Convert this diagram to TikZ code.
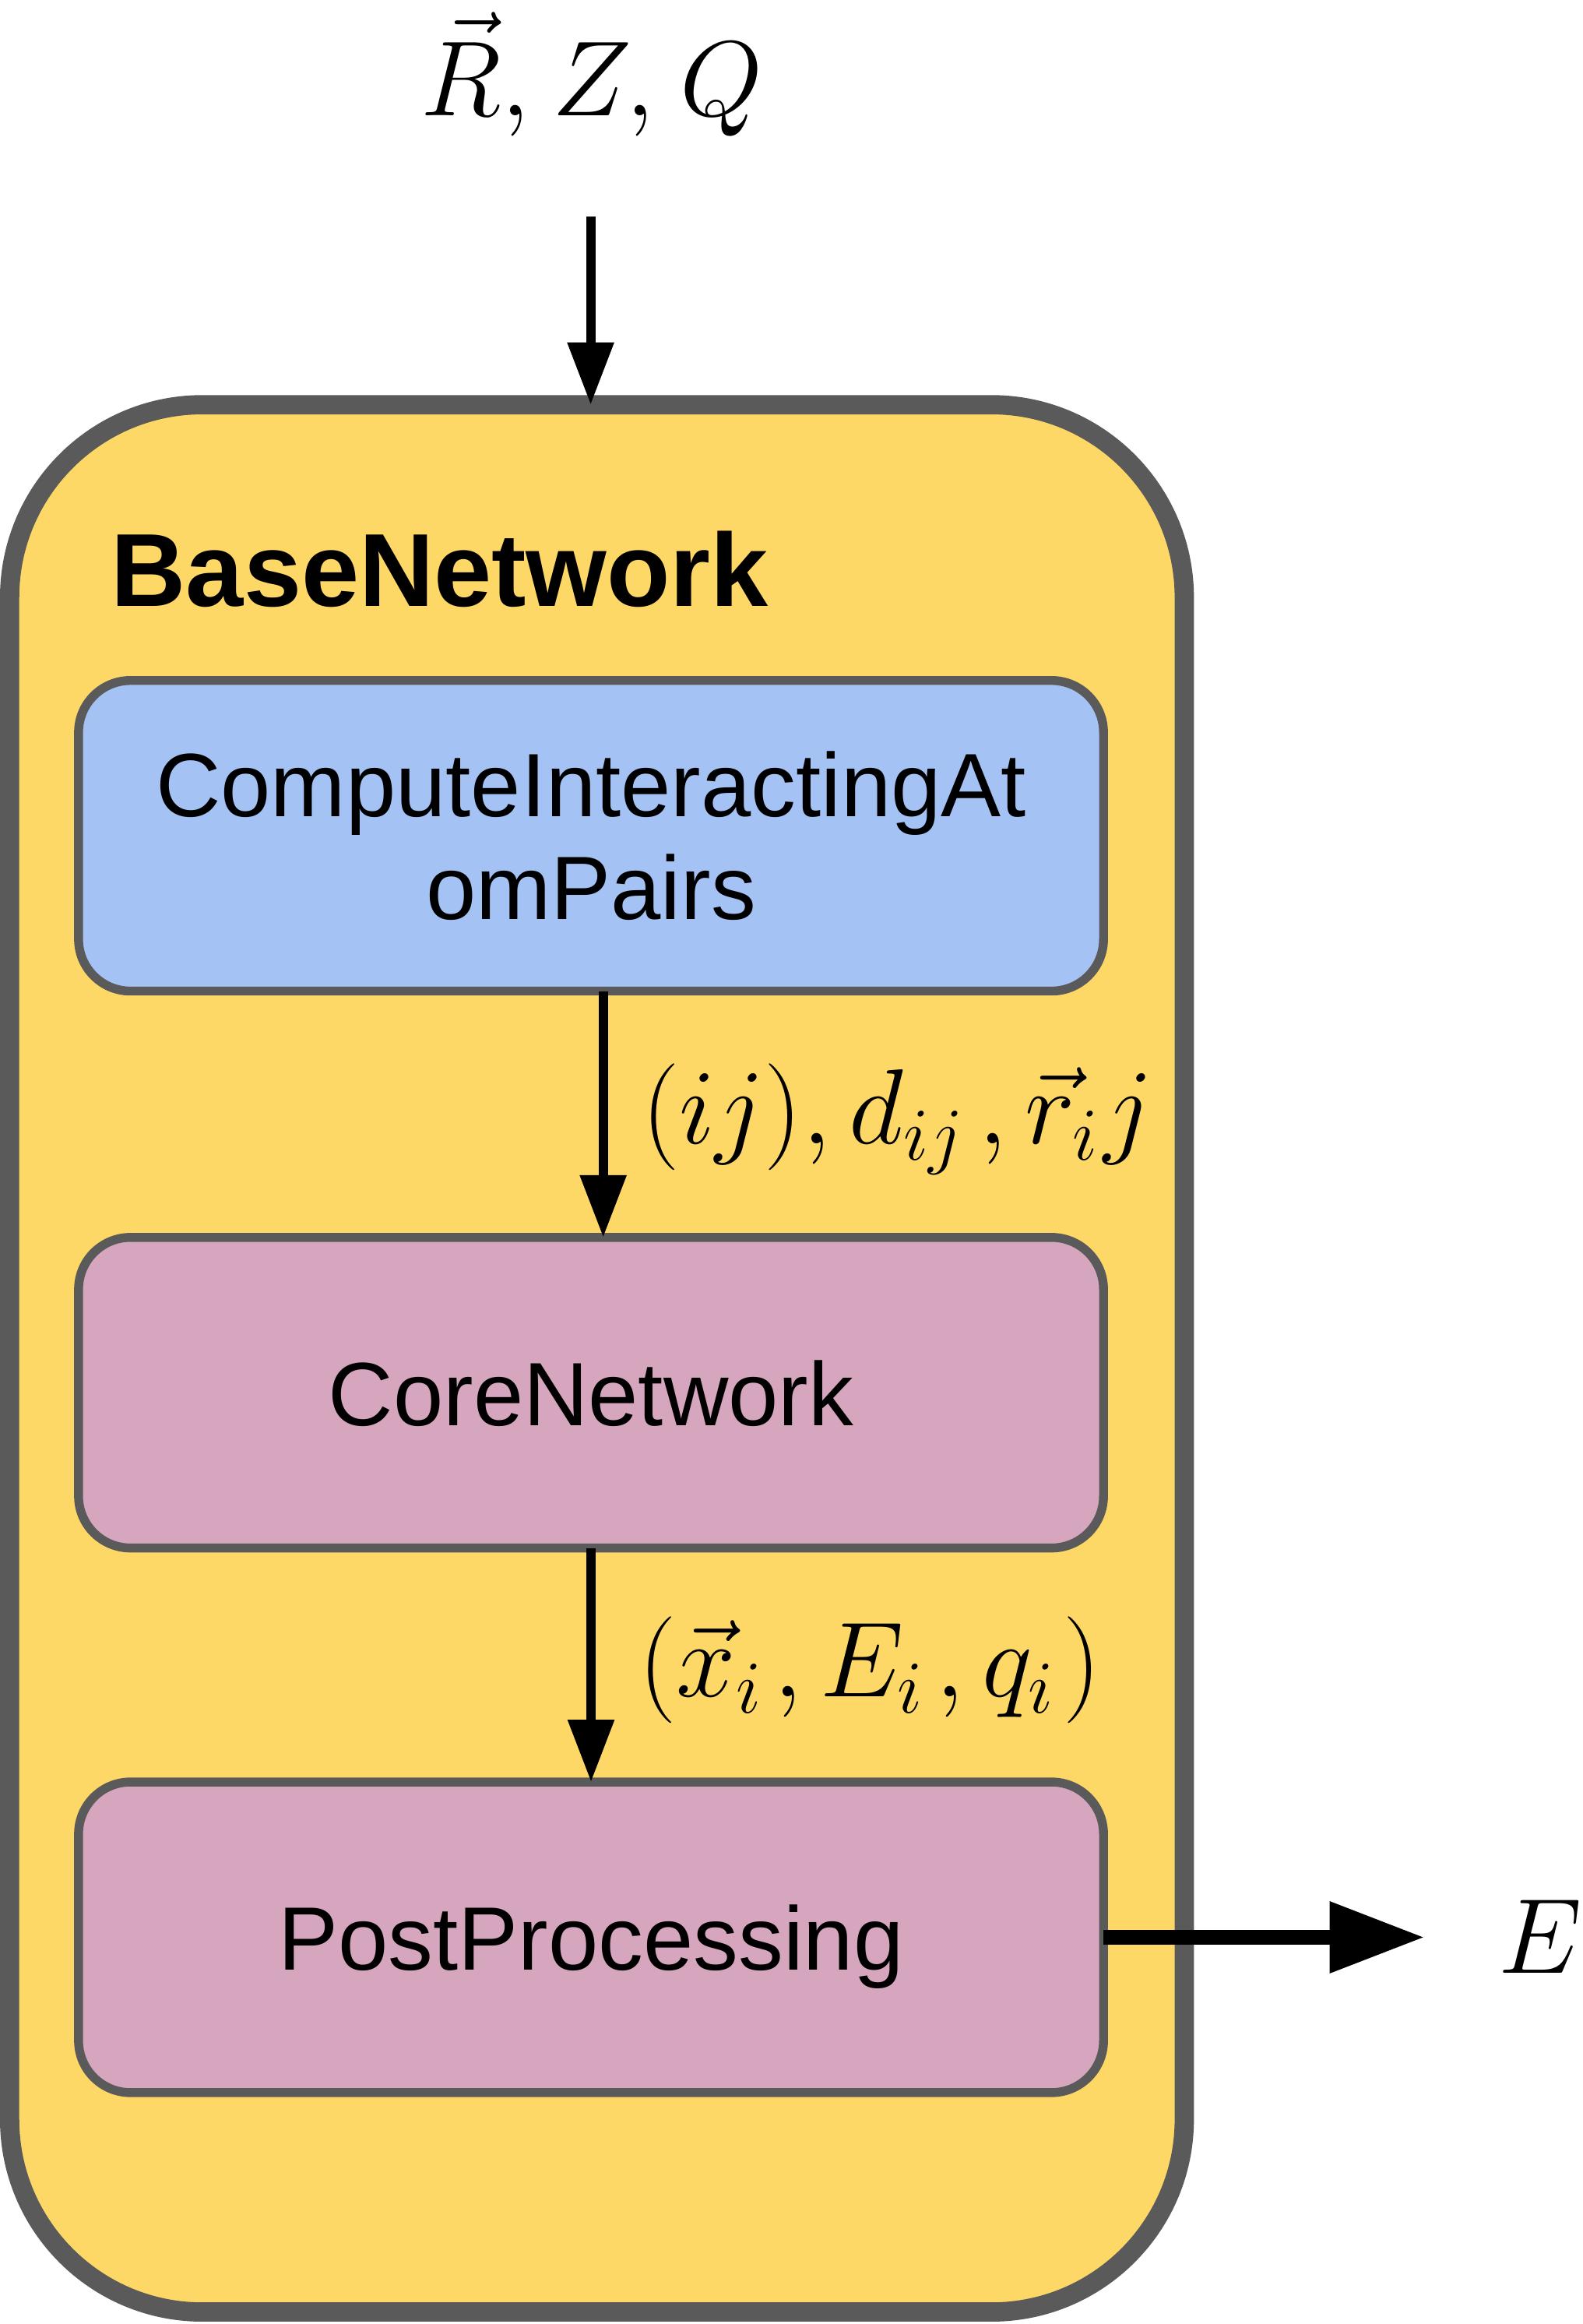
\RequirePackage{fix-cm}
\documentclass[tikz,border=0pt]{standalone}
\usepackage[no-math]{fontspec}
\newfontfamily\lib{Liberation Sans}
\usetikzlibrary{arrows.meta}
\definecolor{bnyellow}{HTML}{FED866}
\definecolor{bngray}{HTML}{5A5A5A}
\definecolor{cmpblue}{HTML}{A4C2F4}
\definecolor{corepink}{HTML}{D5A6BD}
\begin{document}
\begin{tikzpicture}[x=1pt,y=-1pt,
  every node/.style={outer sep=0pt, inner sep=0pt},
  basebox/.style={draw=bngray, fill=bnyellow, line width=13pt, rounded corners=130pt,
    minimum width=792.5pt, minimum height=1286.5pt},
  innerbox/.style={draw=bngray, line width=6pt, rounded corners=35pt,
    minimum width=691.5pt, minimum height=209.5pt, align=center,
    font=\lib\fontsize{60.7}{69}\selectfont},
  mathlbl/.style={anchor=base west, font=\fontsize{72}{80}\selectfont},
  flow/.style={line width=6.3pt, -{Triangle[length=42pt,width=30pt]}},
  outflow/.style={line width=9.6pt, -{Triangle[length=64pt,width=46pt]}},
]
\useasboundingbox (0,0) rectangle (1068,1567.6);
\node[basebox] (base) at (402.75,916.25) {};
\node[anchor=base west, font=\lib\bfseries\fontsize{70}{80}\selectfont] (title) at (75,408.8) {BaseNetwork};
\node[innerbox, fill=cmpblue] (cmp) at (398.75,563.75) {ComputeInteractingAt\\omPairs};
\node[innerbox, fill=corepink, text depth=0pt] (core) at (398.75,939.4) {CoreNetwork};
\node[innerbox, fill=corepink, text depth=0pt] (post) at (398.75,1306.75) {PostProcessing};
\node[mathlbl] (inp) at (284,77.8) {$\vec{R},\mkern0.7mu Z,\mkern1.3mu Q$};
\coordinate (inTop) at (398.5,146);
\draw[flow] (inTop) -- (inTop |- base.north);
\draw[flow] ([xshift=8.2pt]cmp.south) -- ([xshift=8.2pt]core.north);
\draw[flow] (core.south) -- (post.north);
\node[mathlbl] (l1) at (433,771.5) {$(ij), d_{ij}\mkern2.5mu, \vec{r}_i\mkern1mu j$};
\node[mathlbl] (l2) at (431,1144.5) {$(\vec{x}_{i}\mkern2mu, E_{i}\mkern2mu, q_{i}\mkern1.5mu)$};
\coordinate (eTip) at (961,1307);
\draw[outflow] (post.east) -- (post.east -| eTip);
\node[mathlbl] (out) at (1011,1331) {$E$};
\end{tikzpicture}
\end{document}
